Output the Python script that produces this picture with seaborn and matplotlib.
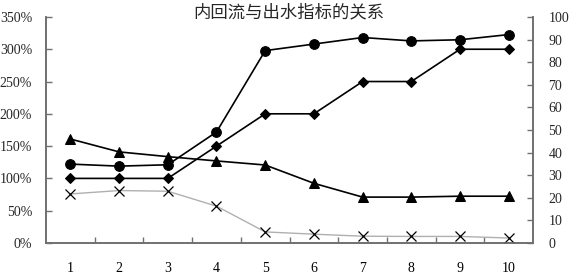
import matplotlib
matplotlib.use("Agg")
import matplotlib.pyplot as plt
import seaborn as sns
import pandas as pd
from matplotlib.ticker import FixedLocator

x = [1, 2, 3, 4, 5, 6, 7, 8, 9, 10]
# left axis (internal reflux ratio, %)
reflux = [100, 100, 100, 150, 200, 200, 250, 250, 300, 300]
# right axis values
circles = [34.9, 34.0, 34.6, 49.1, 85.1, 88.0, 90.9, 89.4, 89.9, 92.2]
triangles = [46.0, 40.3, 38.2, 36.3, 34.5, 26.4, 20.3, 20.3, 20.7, 20.7]
crosses = [21.7, 23.2, 22.9, 16.3, 4.9, 3.9, 3.0, 2.9, 2.9, 2.2]

left_ticks = [0, 50, 100, 150, 200, 250, 300, 350]
right_ticks = [0, 10, 20, 30, 40, 50, 60, 70, 80, 90, 100]
title = "内回流与出水指标的关系"

sns.set_style("white")
plt.rcParams['font.family'] = ['Liberation Serif', 'Noto Sans CJK SC', 'DejaVu Sans']

fig = plt.figure(figsize=(5.71, 2.75), dpi=100)
ax = fig.add_axes([0.0806, 0.1164, 0.853, 0.822])
ax2 = ax.twinx()

df = pd.DataFrame({"x": x, "reflux": reflux, "circles": circles,
                   "triangles": triangles, "crosses": crosses})

sns.lineplot(data=df, x="x", y="reflux", ax=ax, color="black", lw=1.2,
             marker="D", markersize=5, markeredgecolor="black", zorder=3)
sns.lineplot(data=df, x="x", y="crosses", ax=ax2, color="#b0b0b0", lw=1.0,
             marker="x", markersize=6.5, markeredgecolor="black", markeredgewidth=0.9, zorder=2)
sns.lineplot(data=df, x="x", y="triangles", ax=ax2, color="black", lw=1.2,
             marker="^", markersize=7, markeredgecolor="black", zorder=3)
sns.lineplot(data=df, x="x", y="circles", ax=ax2, color="black", lw=1.2,
             marker="o", markersize=7, markeredgecolor="black", zorder=3)

ax.set_xlim(0.5, 10.5)
ax.set_ylim(0, 350)
ax2.set_ylim(0, 100)
ax.set_yticks(left_ticks)
ax.set_yticklabels([f"{v}%" for v in left_ticks])
ax2.set_yticks(right_ticks)
ax2.set_yticklabels([str(v) for v in right_ticks])
ax.set_xticks(x)
ax.set_xticklabels([str(v) for v in x])
ax.xaxis.set_minor_locator(FixedLocator([i + 0.5 for i in range(1, 10)]))

for a in (ax, ax2):
    a.set_xlabel("")
    a.set_ylabel("")
    a.spines['top'].set_visible(False)
    for s in ('left', 'right', 'bottom'):
        a.spines[s].set_color("#707070")
        a.spines[s].set_linewidth(1.2)

ax.tick_params(axis='x', which='major', length=0, pad=14, labelsize=10, colors="black")
ax.tick_params(axis='x', which='minor', direction='in', length=4, width=1, color="#707070", bottom=True)
ax.tick_params(axis='y', direction='in', length=4, width=1, color="#707070", pad=10, labelsize=10, left=True)
ax2.tick_params(axis='y', direction='in', length=4, width=1, color="#707070", pad=11, labelsize=10, right=True)
ax.grid(False)
ax2.grid(False)

fig.text(0.505, 0.955, title, ha="center", va="center", fontsize=12.5,
         family=['Noto Sans CJK SC', 'DejaVu Sans'])

fig.savefig("out.png", dpi=100)
